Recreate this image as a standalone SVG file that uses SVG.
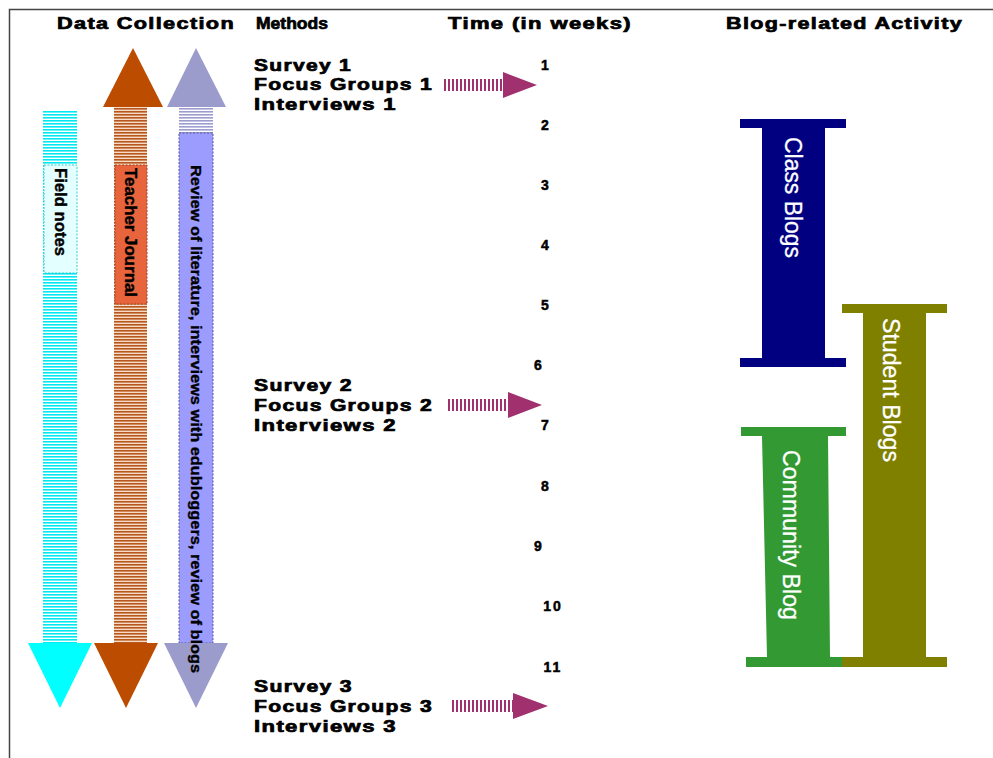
<svg xmlns="http://www.w3.org/2000/svg" width="993" height="758" viewBox="0 0 993 758">
<style>
.hdr{font-family:"Liberation Sans",Arial,sans-serif;font-weight:bold;font-size:16px;fill:#000;stroke:#000;stroke-width:0.7}
.mth{font-family:"Liberation Sans",Arial,sans-serif;font-weight:bold;font-size:16px;fill:#000;stroke:#000;stroke-width:0.7}
.num{font-family:"Liberation Sans",Arial,sans-serif;font-weight:bold;font-size:14px;fill:#000;stroke:#000;stroke-width:0.5;text-anchor:middle}
.vlab{font-family:"Liberation Sans",Arial,sans-serif;font-weight:bold;font-size:15px;fill:#000;stroke:#000;stroke-width:0.35}
.vlab2{font-family:"Liberation Sans",Arial,sans-serif;font-weight:bold;font-size:16px;fill:#000;stroke:#000;stroke-width:0.4}
.blog{font-family:"Liberation Sans",Arial,sans-serif;font-size:23px;fill:#fff;stroke:#fff;stroke-width:0.3}
.frame{stroke:#444;stroke-width:1.5;fill:none}
.box{stroke-dasharray:2 1.5;stroke-width:1}
</style>
<defs>
<pattern id="cyanS" width="4" height="3" patternUnits="userSpaceOnUse"><rect width="4" height="3" fill="#ffffff"/><rect width="4" height="1.6" fill="#00e8f0"/></pattern>
<pattern id="brownS" width="4" height="3" patternUnits="userSpaceOnUse"><rect width="4" height="3" fill="#f4dcc8"/><rect width="4" height="1.6" fill="#b8561c"/></pattern>
<pattern id="lavS" width="4" height="3" patternUnits="userSpaceOnUse"><rect width="4" height="3" fill="#ffffff"/><rect width="4" height="1.6" fill="#9c9cd0"/></pattern>
<pattern id="magS" width="4" height="4" patternUnits="userSpaceOnUse"><rect width="4" height="4" fill="#ffffff"/><rect width="2" height="4" fill="#a0306e"/></pattern>
</defs>
<rect width="993" height="758" fill="#fff"/>
<path class="frame" d="M9.5,758 V9.5 H993"/>

<g id="headers">
<text class="hdr" x="57" y="29" textLength="178" lengthAdjust="spacingAndGlyphs" letter-spacing="1">Data Collection</text>
<text class="hdr" x="256" y="29" textLength="72" lengthAdjust="spacingAndGlyphs">Methods</text>
<text class="hdr" x="448" y="29" textLength="184" lengthAdjust="spacingAndGlyphs" letter-spacing="1">Time (in weeks)</text>
<text class="hdr" x="726" y="29" textLength="237" lengthAdjust="spacingAndGlyphs" letter-spacing="1">Blog-related Activity</text>
</g>

<g id="field-notes">
<rect x="43" y="110" width="34" height="533" fill="url(#cyanS)"/>
<polygon points="28,643 92,643 60,708" fill="#00ffff"/>
<rect class="box" x="44" y="165" width="33" height="108" fill="#e4ffff" stroke="#33cccc"/>
<text class="vlab2" transform="translate(61,168) rotate(90)" y="5.8" textLength="88" lengthAdjust="spacingAndGlyphs">Field notes</text>
</g>

<g id="teacher-journal">
<rect x="114" y="107" width="33" height="536" fill="url(#brownS)"/>
<polygon points="103,107 163,107 133,48" fill="#bb4c00"/>
<polygon points="94,643 158,643 126,708" fill="#bb4c00"/>
<rect class="box" x="115" y="165" width="32" height="139" fill="#e8643c" stroke="#a04020"/>
<text class="vlab2" transform="translate(131,168) rotate(90)" y="5.8" textLength="129" lengthAdjust="spacingAndGlyphs">Teacher Journal</text>
</g>

<g id="review">
<rect x="179" y="107" width="34" height="26" fill="url(#lavS)"/>
<polygon points="167,107 226,107 196,48" fill="#9c9ccc"/>
<rect class="box" x="179" y="133" width="34" height="510" fill="#9c9cff" stroke="#555599"/>
<polygon points="164,643 228,643 196,708" fill="#9c9ccc"/>
<text class="vlab" transform="translate(196,165) rotate(90)" y="5.4" textLength="508" lengthAdjust="spacingAndGlyphs">Review of literature, interviews with edubloggers, review of blogs</text>
</g>

<g id="methods-1">
<text class="mth" x="254" y="71" textLength="98" lengthAdjust="spacingAndGlyphs" letter-spacing="1">Survey 1</text>
<text class="mth" x="254" y="90" textLength="179" lengthAdjust="spacingAndGlyphs" letter-spacing="1">Focus Groups 1</text>
<text class="mth" x="254" y="110" textLength="143" lengthAdjust="spacingAndGlyphs" letter-spacing="1">Interviews 1</text>
</g>
<g id="methods-2">
<text class="mth" x="254" y="391" textLength="99" lengthAdjust="spacingAndGlyphs" letter-spacing="1">Survey 2</text>
<text class="mth" x="254" y="411" textLength="179" lengthAdjust="spacingAndGlyphs" letter-spacing="1">Focus Groups 2</text>
<text class="mth" x="254" y="431" textLength="143" lengthAdjust="spacingAndGlyphs" letter-spacing="1">Interviews 2</text>
</g>
<g id="methods-3">
<text class="mth" x="254" y="692" textLength="99" lengthAdjust="spacingAndGlyphs" letter-spacing="1">Survey 3</text>
<text class="mth" x="254" y="712" textLength="179" lengthAdjust="spacingAndGlyphs" letter-spacing="1">Focus Groups 3</text>
<text class="mth" x="254" y="732" textLength="143" lengthAdjust="spacingAndGlyphs" letter-spacing="1">Interviews 3</text>
</g>

<g id="weeks">
<text class="num" x="545" y="70">1</text>
<text class="num" x="545" y="130">2</text>
<text class="num" x="545" y="190">3</text>
<text class="num" x="545" y="250">4</text>
<text class="num" x="545" y="310">5</text>
<text class="num" x="538" y="370">6</text>
<text class="num" x="545" y="430">7</text>
<text class="num" x="545" y="491">8</text>
<text class="num" x="538" y="551">9</text>
<text class="num" x="553" y="611" letter-spacing="2">10</text>
<text class="num" x="553" y="672" letter-spacing="2">11</text>
</g>

<g id="connectors">
<rect x="443" y="79" width="60" height="12" fill="url(#magS)"/>
<polygon points="503,72 503,98 537,85" fill="#a0306e"/>
<rect x="447" y="399" width="61" height="12" fill="url(#magS)"/>
<polygon points="508,392 508,418 542,405" fill="#a0306e"/>
<rect x="452" y="700" width="61" height="12" fill="url(#magS)"/>
<polygon points="513,693 513,719 548,706" fill="#a0306e"/>
</g>

<g id="class-blogs">
<path d="M740,119 H846 V128 H825 V358 H846 V367 H740 V358 H762 V128 H740 Z" fill="#000080"/>
<text class="blog" transform="translate(793,137) rotate(90)" y="8.2" textLength="121" lengthAdjust="spacingAndGlyphs">Class Blogs</text>
</g>

<g id="community-blog">
<path d="M741,427 H846 V436 H828 L830,657 H842 V667 H746 V657 H767 L762,436 H741 Z" fill="#339933"/>
<text class="blog" transform="translate(791,450) rotate(90)" y="8.2" textLength="170" lengthAdjust="spacingAndGlyphs">Community Blog</text>
</g>

<g id="student-blogs">
<path d="M842,304 H947 V313 H926 V657 H947 V667 H842 V657 H863 V313 H842 Z" fill="#808000"/>
<text class="blog" transform="translate(891,318) rotate(90)" y="8.2" textLength="144" lengthAdjust="spacingAndGlyphs">Student Blogs</text>
</g>
</svg>
